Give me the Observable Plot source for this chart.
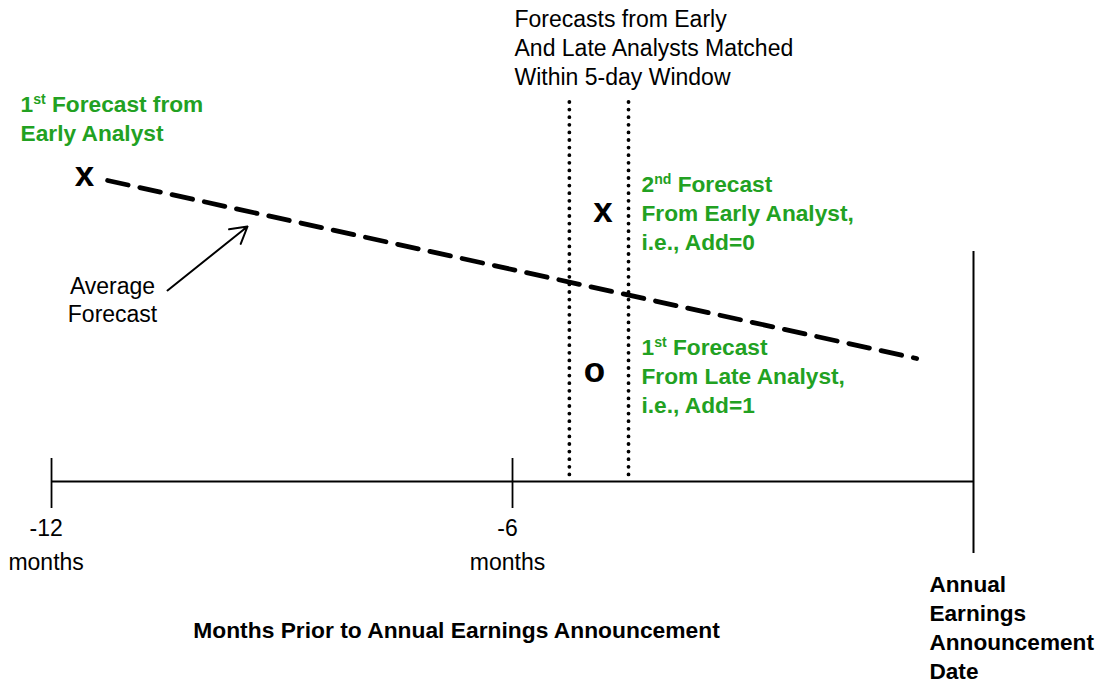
<!DOCTYPE html>
<html>
<head>
<meta charset="utf-8">
<script src="https://cdn.jsdelivr.net/npm/d3@7"></script>
<script src="https://cdn.jsdelivr.net/npm/@observablehq/plot@0.6"></script>
<style>
  html, body { margin: 0; padding: 0; background: #fff; }
  #chart { width: 1103px; height: 685px; }
</style>
</head>
<body>
<div id="chart"></div>
<script>
// ---- Data (months relative to announcement; vertical "level" units, 0 = top) ----
const axisLevel = 481;
const axisStart = -12;
const axisEnd = 0;
const tickMonths = [-12, -6];
const tickSpan = [458, 508];
const tickLabels = ["-12\nmonths", "-6\nmonths"];
const tickLabelMonths = [-12.07, -6.065];
const tickLabelLevel = 542;
const announcementSpan = [251, 553];
const windowBounds = [-5.26, -4.49];
const windowSpan = [102, 478];

const avgMonths = [-11.27, -0.74];
const avgLevels = [180, 358];

const markerText = ["x", "x", "o"];
const markerMonths = [-11.571, -4.822, -4.933];
const markerLevels = [174.5, 210.5, 370];

const arrowFrom = [-10.49, 290];
const arrowTo = [-9.449, 226];

const greenLabels = [
  "1st Forecast from\nEarly Analyst",
  "2nd Forecast\nFrom Early Analyst,\ni.e., Add=0",
  "1st Forecast\nFrom Late Analyst,\ni.e., Add=1"
];
const greenMonths = [-12.403, -4.321, -4.321];
const greenLevels = [116.5, 211.5, 374];

const titleText = "Forecasts from Early\nAnd Late Analysts Matched\nWithin 5-day Window";
const titleMonth = -5.974, titleLevel = 46;
const avgLabel = "Average\nForecast";
const avgLabelMonth = -11.206, avgLabelLevel = 299;
const axisTitle = "Months Prior to Annual Earnings Announcement";
const axisTitleMonth = -6.729, axisTitleLevel = 630;
const annLabel = "Annual\nEarnings\nAnnouncement\nDate";
const annLabelMonth = -0.573, annLabelLevel = 626;

const GREEN = "#22a122";
const FONT = "Liberation Sans, Arial, Helvetica, sans-serif";

const avgData = avgMonths.map((m, i) => ({month: m, level: avgLevels[i]}));
const markers = markerText.map((t, i) => ({t, month: markerMonths[i], level: markerLevels[i]}));
const greens = greenLabels.map((t, i) => ({t, month: greenMonths[i], level: greenLevels[i]}));
const ticks = tickLabels.map((t, i) => ({t, month: tickLabelMonths[i]}));

const chart = Plot.plot({
  width: 1103,
  height: 685,
  margin: 0,
  x: {domain: [-12.664, 1.692], axis: null},
  y: {domain: [0, 685], reverse: true, axis: null},
  style: {fontFamily: FONT, background: "white", color: "black"},
  marks: [
    Plot.ruleY([axisLevel], {x1: axisStart, x2: axisEnd, stroke: "black", strokeWidth: 2}),
    Plot.ruleX(tickMonths, {y1: tickSpan[0], y2: tickSpan[1], stroke: "black", strokeWidth: 1.8}),
    Plot.ruleX([axisEnd], {y1: announcementSpan[0], y2: announcementSpan[1], stroke: "black", strokeWidth: 2}),
    Plot.ruleX(windowBounds, {y1: windowSpan[0], y2: windowSpan[1], stroke: "black", strokeWidth: 3.8, strokeDasharray: "0,7.6", strokeLinecap: "round"}),
    Plot.line(avgData, {x: "month", y: "level", stroke: "black", strokeWidth: 4.8, strokeDasharray: "21,12"}),
    Plot.arrow([{x1: arrowFrom[0], y1: arrowFrom[1], x2: arrowTo[0], y2: arrowTo[1]}], {
      x1: "x1", y1: "y1", x2: "x2", y2: "y2", stroke: "black", strokeWidth: 2, headLength: 14
    }),
    Plot.text(markers, {x: "month", y: "level", text: "t", fontSize: 35, fontWeight: "bold", fill: "black"}),
    Plot.text(greens, {x: "month", y: "level", text: "t", fontSize: 22.7, fontWeight: "bold", fill: GREEN, textAnchor: "start", lineHeight: 29 / 22.7}),
    Plot.text([titleText], {x: titleMonth, y: titleLevel, text: d => d, fontSize: 23, textAnchor: "start", lineHeight: 29 / 23, fill: "black"}),
    Plot.text([avgLabel], {x: avgLabelMonth, y: avgLabelLevel, text: d => d, fontSize: 23, lineHeight: 28 / 23, fill: "black"}),
    Plot.text(ticks, {x: "month", y: tickLabelLevel, text: "t", fontSize: 23, lineHeight: 34 / 23, fill: "black"}),
    Plot.text([axisTitle], {x: axisTitleMonth, y: axisTitleLevel, text: d => d, fontSize: 22.8, fontWeight: "bold", fill: "black"}),
    Plot.text([annLabel], {x: annLabelMonth, y: annLabelLevel, text: d => d, fontSize: 22.6, fontWeight: "bold", textAnchor: "start", lineHeight: 29 / 22.6, fill: "black"})
  ]
});

// Render ordinal suffixes (1st, 2nd) as superscripts
d3.select(chart).selectAll("tspan").each(function() {
  const node = d3.select(this);
  const txt = node.text();
  const m = txt.match(/^(\d)(st|nd|rd|th)(.*)$/);
  if (!m) return;
  node.text(m[1]);
  node.append("tspan").attr("dy", -8).attr("font-size", "0.62em").text(m[2]);
  node.append("tspan").attr("dy", 8).text(m[3]);
});

document.getElementById("chart").appendChild(chart);
</script>
</body>
</html>
